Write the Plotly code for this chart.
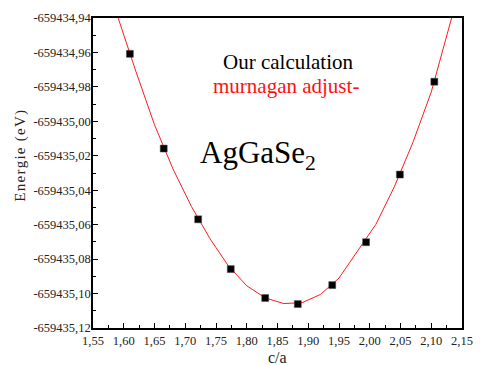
import plotly.graph_objects as go

# measured points
ca_points = [1.610, 1.665, 1.721, 1.774, 1.830, 1.883, 1.939, 1.994, 2.049, 2.105]
e_points = [-659434.9608, -659435.0158, -659435.0569, -659435.0858, -659435.1026,
            -659435.1061, -659435.0951, -659435.0702, -659435.0309, -659434.9770]

# Murnaghan fit curve
ca_fit = [1.59, 1.62, 1.65, 1.68, 1.71, 1.74, 1.77, 1.80, 1.83, 1.86, 1.89, 1.92,
          1.95, 1.98, 2.01, 2.04, 2.07, 2.10, 2.13, 2.16]
e_fit = [-659434.9390, -659434.9713, -659435.0020, -659435.0276, -659435.0494,
         -659435.0680, -659435.0839, -659435.0955, -659435.1025, -659435.1058,
         -659435.1053, -659435.1005, -659435.0910, -659435.0757, -659435.0598,
         -659435.0380, -659435.0124, -659434.9830, -659434.9450, -659434.9050]

x_tickvals = [1.55, 1.60, 1.65, 1.70, 1.75, 1.80, 1.85, 1.90, 1.95, 2.00, 2.05, 2.10, 2.15]
x_ticktext = ["1,55", "1,60", "1,65", "1,70", "1,75", "1,80", "1,85", "1,90", "1,95",
              "2,00", "2,05", "2,10", "2,15"]
y_tickvals = [-659434.94, -659434.96, -659434.98, -659435.00, -659435.02, -659435.04,
              -659435.06, -659435.08, -659435.10, -659435.12]
y_ticktext = ["-659434,94", "-659434,96", "-659434,98", "-659435,00", "-659435,02",
              "-659435,04", "-659435,06", "-659435,08", "-659435,10", "-659435,12"]

tick_font = dict(family="Liberation Sans Narrow", size=12.5, color="#222")
serif = "Liberation Serif"

fig = go.Figure()
fig.add_trace(go.Scatter(x=ca_fit, y=e_fit, mode="lines",
                         line=dict(color="#ff1a1a", width=1), showlegend=False))
fig.add_trace(go.Scatter(x=ca_points, y=e_points, mode="markers",
                         marker=dict(symbol="square", size=7, color="black",
                                     line=dict(color="#555", width=0.5)),
                         showlegend=False))

fig.update_layout(
    width=484, height=365,
    margin=dict(l=93, r=11, t=17, b=37),
    paper_bgcolor="white", plot_bgcolor="white",
    showlegend=False,
    xaxis=dict(range=[1.55, 2.15], tickmode="array", tickvals=x_tickvals,
               ticktext=x_ticktext, ticks="inside", ticklen=5, tickwidth=1.2,
               tickcolor="black", showline=True, linecolor="black", linewidth=1.5,
               mirror=True, showgrid=False, zeroline=False, tickfont=tick_font,
               ticklabeloverflow="allow",
               minor=dict(ticks="inside", ticklen=3, tickcolor="black",
                          dtick=0.025, tick0=1.55, showgrid=False)),
    yaxis=dict(range=[-659435.12, -659434.94], tickmode="array", tickvals=y_tickvals,
               ticktext=y_ticktext, ticks="inside", ticklen=5, tickwidth=1.2,
               tickcolor="black", showline=True, linecolor="black", linewidth=1.5,
               mirror=True, showgrid=False, zeroline=False, tickfont=tick_font,
               ticklabelstandoff=-2, ticklabeloverflow="allow",
               minor=dict(ticks="inside", ticklen=3, tickcolor="black",
                          dtick=0.01, tick0=-659435.12, showgrid=False)),
    annotations=[
        dict(text="c/a", x=0.5, y=-0.094, xref="paper", yref="paper",
             showarrow=False, font=dict(family=serif, size=16, color="#222"),
             xanchor="center", yanchor="middle"),
        dict(text="\u200a".join("Energie (eV)"), x=-0.195, y=0.556,
             xref="paper", yref="paper", showarrow=False, textangle=-90,
             font=dict(family=serif, size=15, color="#222"),
             xanchor="center", yanchor="middle"),
        dict(text="Our calculation", x=294, y=-659434.9654, xref="x", yref="y",
             showarrow=False, font=dict(family=serif, size=21, color="black"),
             xanchor="center", yanchor="middle"),
        dict(text="murnagan adjust-", x=291.5, y=-659434.9793, xref="x", yref="y",
             showarrow=False, font=dict(family=serif, size=21, color="#ff1010"),
             xanchor="center", yanchor="middle"),
        dict(text="AgGaSe<sub>2</sub>", x=262.5, y=-659435.0195, xref="x", yref="y",
             showarrow=False, font=dict(family=serif, size=31, color="black"),
             xanchor="center", yanchor="middle"),
    ],
)

# convert pixel x positions (page pixels) for annotations into data coordinates
for ann in fig.layout.annotations:
    if ann.xref == "x":
        ann.x = 1.55 + (ann.x - 93) / 380 * 0.6

fig.write_html("out.html",
               config={"displayModeBar": False},
               post_script="document.body.style.margin='0';"
                           "document.documentElement.style.overflow='hidden';")
